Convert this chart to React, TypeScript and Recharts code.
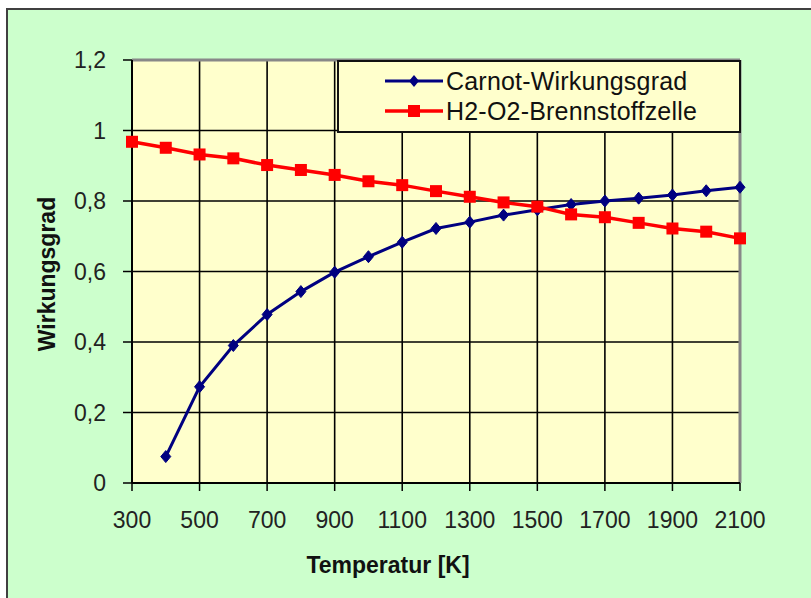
import React from 'react';
import { LineChart, Line, XAxis, YAxis, CartesianGrid, Legend, ReferenceLine } from 'recharts';

const temperatures = [300, 400, 500, 600, 700, 800, 900, 1000, 1100, 1200, 1300, 1400, 1500, 1600, 1700, 1800, 1900, 2000, 2100];
const carnot = [null, 0.075, 0.273, 0.39, 0.478, 0.543, 0.598, 0.642, 0.683, 0.722, 0.74, 0.76, 0.775, 0.79, 0.8, 0.808, 0.817, 0.829, 0.839];
const fuelCell = [0.968, 0.951, 0.932, 0.921, 0.902, 0.888, 0.874, 0.856, 0.845, 0.828, 0.812, 0.796, 0.784, 0.762, 0.754, 0.738, 0.722, 0.713, 0.694];
const xTicks = [300, 500, 700, 900, 1100, 1300, 1500, 1700, 1900, 2100];
const yTicks = [0, 0.2, 0.4, 0.6, 0.8, 1, 1.2];
const seriesNames = ['Carnot-Wirkungsgrad', 'H2-O2-Brennstoffzelle'];

const data = temperatures.map((t, i) => ({ t, carnot: carnot[i], fuel: fuelCell[i] }));

const FONT = '"Liberation Sans", Arial, sans-serif';
const BLUE = '#000080';
const RED = '#FF0000';

const Diamond = (props: any) => {
  const { cx, cy, index } = props;
  if (cx == null || cy == null || isNaN(cx) || isNaN(cy)) return <g key={`d${index}`} />;
  const w = 5, h = 6;
  return <path key={`d${index}`} d={`M${cx},${cy - h}L${cx + w},${cy}L${cx},${cy + h}L${cx - w},${cy}Z`} fill={BLUE} stroke={BLUE} strokeWidth={1} />;
};

const Square = (props: any) => {
  const { cx, cy, index } = props;
  if (cx == null || cy == null || isNaN(cx) || isNaN(cy)) return <g key={`s${index}`} />;
  const s = 6;
  return <rect key={`s${index}`} x={cx - s} y={cy - s} width={2 * s} height={2 * s} fill={RED} />;
};

const LegendBox = () => (
  <div style={{ width: 400, height: 69, background: '#FFFFCC', border: '2px solid #111', fontFamily: FONT, fontSize: 25, color: '#111', boxSizing: 'content-box' }}>
    {[0, 1].map((i) => (
      <div key={i} style={{ position: 'absolute', left: 48, top: i === 0 ? 6 : 36, height: 30, display: 'flex', alignItems: 'center' }}>
        <svg width={58} height={20} style={{ marginRight: 3 }}>
          <line x1={0} y1={10} x2={58} y2={10} stroke={i === 0 ? BLUE : RED} strokeWidth={i === 0 ? 3 : 3.5} />
          {i === 0 ? (
            <path d="M29,4L34,10L29,16L24,10Z" fill={BLUE} />
          ) : (
            <rect x={23} y={4} width={12} height={12} fill={RED} />
          )}
        </svg>
        <span style={{ letterSpacing: 0.2 }}>{seriesNames[i]}</span>
      </div>
    ))}
  </div>
);

export default function App() {
  return (
    <div style={{ position: 'absolute', left: 0, top: 0, width: 811, height: 598, overflow: 'hidden', background: '#fff' }}>
      <div style={{ position: 'absolute', left: 6, top: 8, width: 820, height: 620, background: '#CCFFCC', border: '2px solid #404040' }} />
      <div style={{ position: 'absolute', left: 0, top: 0 }}>
        <LineChart width={811} height={598} data={data} margin={{ top: 60, right: 71, bottom: 55, left: 32 }}>
          <CartesianGrid stroke="#000" strokeWidth={1.6} fill="#FFFFCC" fillOpacity={1} />
          <XAxis
            dataKey="t"
            type="number"
            domain={[300, 2100]}
            ticks={xTicks}
            interval={0}
            height={60}
            tickSize={8}
            tickMargin={21}
            axisLine={{ stroke: '#000', strokeWidth: 2 }}
            tickLine={{ stroke: '#000', strokeWidth: 1.5 }}
            tick={{ fill: '#222', fontSize: 23, fontFamily: FONT }}
          />
          <YAxis
            type="number"
            domain={[0, 1.2]}
            ticks={yTicks}
            interval={0}
            width={100}
            tickSize={9}
            tickMargin={17}
            axisLine={{ stroke: '#000', strokeWidth: 2 }}
            tickLine={{ stroke: '#000', strokeWidth: 1.5 }}
            tick={{ fill: '#222', fontSize: 23, fontFamily: FONT }}
            tickFormatter={(v: number) => String(v).replace('.', ',')}
          />
          <ReferenceLine y={1.2} stroke="#888" strokeWidth={3} ifOverflow="visible" />
          <ReferenceLine x={2100} stroke="#888" strokeWidth={3} ifOverflow="visible" />
          <Line
            type="linear"
            dataKey="carnot"
            name={seriesNames[0]}
            stroke={BLUE}
            strokeWidth={3}
            dot={Diamond}
            activeDot={false}
            connectNulls={false}
            isAnimationActive={false}
          />
          <Line
            type="linear"
            dataKey="fuel"
            name={seriesNames[1]}
            stroke={RED}
            strokeWidth={3.5}
            dot={Square}
            activeDot={false}
            isAnimationActive={false}
          />
          <Legend
            layout="vertical"
            align="center"
            verticalAlign="middle"
            content={() => <LegendBox />}
            wrapperStyle={{ position: 'absolute', left: 337, top: 60, width: 404, height: 73 }}
          />
        </LineChart>
      </div>
      <div style={{ position: 'absolute', left: 288, top: 552, width: 200, textAlign: 'center', fontFamily: FONT, fontWeight: 'bold', fontSize: 23, color: '#111' }}>
        Temperatur [K]
      </div>
      <div style={{ position: 'absolute', left: 47, top: 274, width: 0, height: 0 }}>
        <div style={{ position: 'absolute', left: -100, top: -15, width: 200, height: 30, lineHeight: '30px', textAlign: 'center', transform: 'rotate(-90deg)', fontFamily: FONT, fontWeight: 'bold', fontSize: 23, color: '#111', whiteSpace: 'nowrap' }}>
          Wirkungsgrad
        </div>
      </div>
    </div>
  );
}
